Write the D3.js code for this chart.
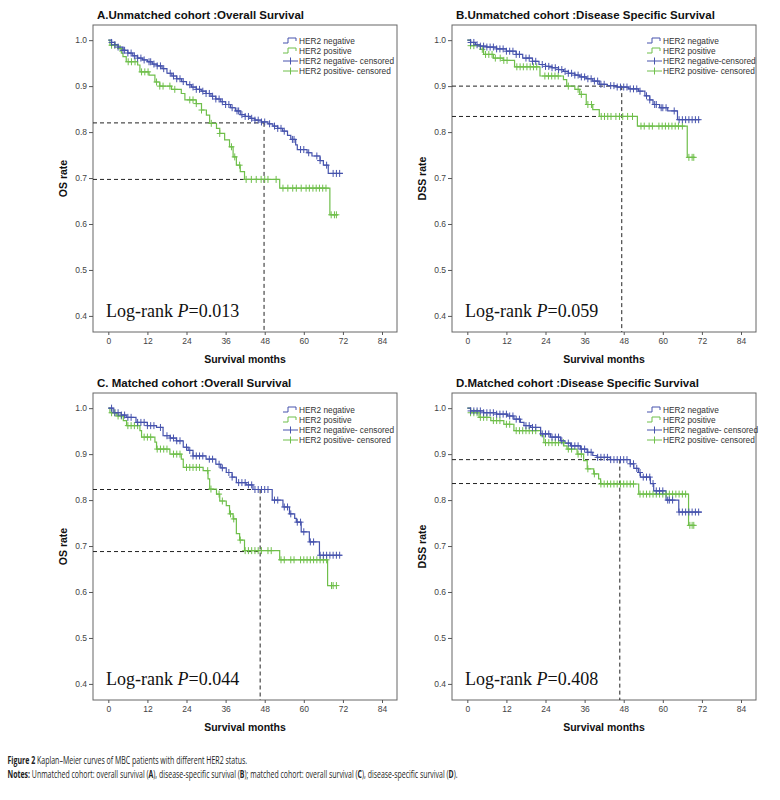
<!DOCTYPE html>
<html lang="en">
<head>
<meta charset="UTF-8">
<title>Kaplan-Meier curves by HER2 status</title>
<style>
  body { margin: 0; background: #fff; }
  svg { display: block; }
  .tick text { font-family: Arial, "Liberation Sans", sans-serif; font-size: 8.5px; fill: #444; }
  .tick line, .domain { stroke: #555; }
  .legend text { font-family: Arial, "Liberation Sans", sans-serif; font-size: 8.3px; fill: #333; }
  .title { font-family: Arial, "Liberation Sans", sans-serif; font-weight: bold; font-size: 11.5px; fill: #111; }
  .axis-title { font-family: Arial, "Liberation Sans", sans-serif; font-weight: bold; font-size: 10.5px; fill: #111; }
  .pval { font-family: "Liberation Serif", "Times New Roman", serif; font-size: 18px; fill: #111; }
  .caption { font-family: "Open Sans", "Liberation Sans", sans-serif; font-size: 10px; fill: #222; }
</style>
</head>
<body>
<svg id="chart" width="780" height="800"></svg>
<script src="https://d3js.org/d3.v7.min.js"></script>
<script>
// ---- data: [month, survival] steps, censored months ----
const titles = [
  "A.Unmatched cohort :Overall Survival",
  "B.Unmatched cohort :Disease Specific Survival",
  "C. Matched cohort :Overall Survival",
  "D.Matched cohort :Disease Specific Survival"
];
const yTitles = ["OS rate", "DSS rate", "OS rate", "DSS rate"];
const pValues = ["0.013", "0.059", "0.044", "0.408"];
const legendLabels = [
  ["HER2 negative", "HER2 positive", "HER2 negative- censored", "HER2 positive- censored"],
  ["HER2 negative", "HER2 positive", "HER2 negative-censored", "HER2 positive- censored"],
  ["HER2 negative", "HER2 positive", "HER2 negative- censored", "HER2 positive- censored"],
  ["HER2 negative", "HER2 positive", "HER2 negative- censored", "HER2 positive- censored"]
];
const xTicks = [0, 12, 24, 36, 48, 60, 72, 84];
const yTicks = [0.4, 0.5, 0.6, 0.7, 0.8, 0.9, 1.0];

// reference lines: [month, level negative, level positive]
const refLines = [[47.8, 0.82, 0.697], [47.4, 0.9, 0.834], [46.6, 0.823, 0.688], [46.8, 0.888, 0.836]];

const aNegSteps = [[0,1],[1,0.995],[2,0.99],[3,0.985],[4.5,0.978],[6,0.972],[7.5,0.966],[9,0.961],[10.5,0.957],[12,0.953],[13.5,0.948],[15,0.944],[16.5,0.938],[18,0.928],[19.5,0.922],[21,0.916],[22.5,0.91],[24,0.903],[25.5,0.898],[27,0.893],[28.5,0.889],[30,0.884],[31.5,0.878],[33,0.872],[34.5,0.866],[36,0.86],[37.5,0.853],[39,0.846],[40.5,0.838],[42,0.834],[43.5,0.83],[45,0.826],[47,0.822],[49,0.818],[50.5,0.813],[52,0.808],[53.5,0.802],[55,0.793],[56,0.784],[57.5,0.772],[58,0.762],[61,0.755],[62.5,0.748],[65,0.738],[66,0.728],[67.5,0.71],[72,0.71]];
const aPosSteps = [[0,1],[0.5,0.989],[3,0.982],[4,0.972],[4.5,0.964],[5.5,0.953],[9,0.946],[9.7,0.931],[12.5,0.924],[14.3,0.909],[15.8,0.9],[19.4,0.893],[22.4,0.884],[23.5,0.87],[27,0.862],[28.6,0.848],[30.1,0.837],[31.1,0.819],[33.2,0.808],[34.2,0.797],[35.7,0.783],[37.2,0.768],[38.3,0.746],[39.3,0.728],[40.5,0.714],[41.8,0.697],[52.6,0.678],[68,0.62],[70.5,0.62]];
const aNegCens = [1,2,3,4.5,5,6,7,8,9,10,11,12.5,13,14,15,16,17,19,20,21,22,23,25,26,27,28,29,30,31,32,33,34,35,36,37,38,39.5,40,41,42,43,44,45,46,47,48,49.5,51,52,53,54,56.5,57,59,60,61.5,64,65,67,69,70,71];
const aPosCens = [1,2,3.6,6.1,7.1,8.2,10.2,11.2,12.2,14.8,15.8,16.8,18.9,20.4,25,26,27,28.6,31.6,34.2,37.8,38.8,40.3,42.3,43.9,45.4,46.9,48,49,51.5,53.6,55.1,56.6,57.7,59.2,60.7,61.7,62.8,63.8,64.8,65.8,66.8,68.4,69.4,70];

const bNegSteps = [[0,1],[1,0.995],[2.5,0.99],[4,0.987],[6,0.985],[9,0.981],[12,0.976],[15,0.969],[17,0.961],[20,0.954],[22,0.947],[24,0.943],[26,0.94],[28,0.936],[29.5,0.932],[31,0.928],[33,0.924],[34.5,0.92],[36.5,0.916],[38.5,0.911],[40.5,0.904],[43,0.901],[46,0.898],[49.5,0.894],[52.5,0.889],[54.5,0.879],[56,0.87],[57,0.86],[59,0.853],[61.5,0.846],[64.5,0.827],[71.5,0.827]];
const bPosSteps = [[0,1],[1,0.988],[4,0.98],[5,0.969],[8,0.961],[11,0.956],[14.5,0.942],[22.3,0.922],[29.5,0.914],[30.5,0.9],[33,0.893],[34.5,0.882],[36.5,0.86],[38.5,0.849],[40.5,0.834],[52.2,0.813],[67.5,0.745],[70,0.745]];
const bNegCens = [1,2,3,4,5,6,7,8,9,10,11,12,13,14,15,16,18,19,20,21,23,24,25,26,27,28,29,30,31,32,33,34,35,36,37,38,39,40,41,42,44,45,46,47,48,49,50,51,52,53,55,56,57.5,58,59.5,60,61,63.5,65,66,67,68,69,70,71];
const bPosCens = [1,2,4.6,5.6,6.6,7.6,8.6,10.1,11.2,12.2,15.2,16.2,17.2,18.3,19.3,20.3,21.3,23.8,24.9,25.9,26.9,27.9,31,34,35,37,38.1,41.1,42.1,43.1,44.1,45.6,46.7,47.7,49.2,50.7,53.3,54.3,55.8,56.8,58.8,59.8,60.8,61.8,62.8,63.8,64.8,66,68,69,69.5];

const cNegSteps = [[0,1],[1.5,0.99],[4,0.985],[5.5,0.98],[8.5,0.969],[12,0.962],[14.8,0.958],[16.8,0.94],[19,0.935],[20.9,0.929],[23,0.915],[24.5,0.908],[26,0.896],[30,0.889],[33,0.878],[34.5,0.87],[36.2,0.86],[38,0.85],[39.3,0.838],[42.3,0.833],[44.4,0.823],[50.3,0.8],[53.6,0.785],[55.6,0.77],[57.2,0.76],[57.7,0.752],[59.2,0.731],[61.7,0.709],[64.8,0.68],[71.7,0.68]];
const cPosSteps = [[0,1],[0.5,0.99],[2.6,0.983],[4.6,0.973],[5.6,0.962],[9.7,0.951],[10.2,0.937],[14.3,0.926],[14.8,0.911],[18.9,0.9],[22.4,0.889],[23,0.871],[29.1,0.864],[30.6,0.846],[31.1,0.824],[33.2,0.813],[34.2,0.798],[36.2,0.788],[37.2,0.77],[38.3,0.759],[39.3,0.727],[40.3,0.713],[41.8,0.69],[52.6,0.67],[67.3,0.614],[70,0.614]];
const cNegCens = [1,2,3,4,5,6,7,9,10,11,12,13,14,16,18,19,20,21,22,24,25,26,27,28,29,31,32,34,35,37,38,40,41,42,43,44,45,46,47,48,49,51,52,54,55,56,58,59,60,62,63,65,66,67,68,69,70,71];
const cPosCens = [1,2,3,4,6,7,8,9,11,12,13,15,16,17,18,20,21,22,24,25,26,27,28,30.5,31.5,34,35,37.5,38.5,40.5,42,43,44,45,46,47,49,50,53,54,56,57,59,60,61,62,63,64,65,66,67,68.5,69,70];

const dNegSteps = [[0,1],[1,0.994],[5,0.99],[9,0.987],[12.3,0.983],[14.3,0.976],[16.3,0.969],[17.4,0.962],[19.4,0.958],[22.5,0.944],[25.5,0.937],[28.6,0.929],[30,0.924],[31.7,0.918],[34.7,0.911],[36.8,0.904],[38.5,0.897],[39.8,0.893],[43.9,0.888],[50,0.879],[51.1,0.869],[52.5,0.86],[53.1,0.85],[56.2,0.836],[57.2,0.82],[61,0.8],[64.9,0.774],[72,0.774]];
const dPosSteps = [[0,1],[1,0.99],[3.6,0.98],[7.2,0.973],[11.2,0.965],[14.3,0.951],[22.5,0.94],[23.5,0.925],[29.6,0.918],[30.6,0.911],[33.7,0.9],[35.7,0.886],[36.8,0.868],[38.8,0.857],[40.3,0.846],[40.9,0.835],[52.6,0.813],[67.9,0.745],[70,0.745]];
const dNegCens = [1,2,3,4,5,6,7,8,9,10,11,12,13,14,15,16,18,19,20,21,23,24,25,26,27,28,29,31,32,33,34,35,36,37,38,40,41,42,43,44,45,46,47,48,49,50,51,52,53,54,55,56,57,58,59,60,61.5,62,63,65,66,67,68,69,70,71];
const dPosCens = [1,2,3,4,5,6,8,9,10,12,13,15,16,17,18,19,20,21,24,25,26,27,28,29.5,31,32,34,35,37,39,41,42,43,44,45,46,47,48,49,50,51,53,54,55,56,57,58,59,60,61,62,63,64,65,66,67,68.3,69,69.5];

const negSteps = [aNegSteps, bNegSteps, cNegSteps, dNegSteps];
const posSteps = [aPosSteps, bPosSteps, cPosSteps, dPosSteps];
const negCens = [aNegCens, bNegCens, cNegCens, dNegCens];
const posCens = [aPosCens, bPosCens, cPosCens, dPosCens];

// ---- layout ----
const blue = "#4653ad", green = "#6fbf4b";
const svg = d3.select("#chart");
const offsets = [[0, 0], [359, 0], [0, 368], [359, 368]];
const box = { left: 93, top: 25, width: 304, height: 307 };

const x = d3.scaleLinear().domain([-4.7, 88.6]).range([0, box.width]);
const y = d3.scaleLinear().domain([0.365, 1.033]).range([box.height, 0]);
const bis = d3.bisector(d => d[0]).right;
const stepAt = (steps, t) => steps[Math.max(0, bis(steps, t) - 1)][1];
const line = d3.line().x(d => x(d[0])).y(d => y(d[1])).curve(d3.curveStepAfter);

function drawCensored(g, steps, times, color) {
  g.selectAll(null).data(times).enter().append("path")
    .attr("d", t => {
      const cx = x(t), cy = y(stepAt(steps, t));
      return `M${cx - 3},${cy}H${cx + 3}M${cx},${cy - 3.5}V${cy + 3.5}`;
    })
    .attr("stroke", color).attr("stroke-width", 1).attr("fill", "none");
}

offsets.forEach((o, i) => {
  const panel = svg.append("g").attr("transform", `translate(${o[0]},${o[1]})`);

  panel.append("text").attr("class", "title")
    .attr("x", box.left + 4).attr("y", box.top - 6).text(titles[i]);

  const g = panel.append("g").attr("transform", `translate(${box.left},${box.top})`);

  g.append("rect").attr("width", box.width).attr("height", box.height)
    .attr("fill", "#fff").attr("stroke", "#666").attr("stroke-width", 1);

  g.append("g").attr("transform", `translate(0,${box.height})`)
    .call(d3.axisBottom(x).tickValues(xTicks).tickSize(3).tickPadding(3).tickFormat(d3.format("d")))
    .call(a => a.select(".domain").remove());

  g.append("g")
    .call(d3.axisLeft(y).tickValues(yTicks).tickSize(4).tickPadding(2).tickFormat(d3.format(".1f")))
    .call(a => a.select(".domain").remove());

  // reference dashed lines
  const r = refLines[i];
  g.selectAll(null).data([r[1], r[2]]).enter().append("line")
    .attr("x1", 0).attr("x2", x(r[0])).attr("y1", d => y(d)).attr("y2", d => y(d))
    .attr("stroke", "#222").attr("stroke-dasharray", "4,3");
  g.append("line")
    .attr("x1", x(r[0])).attr("x2", x(r[0])).attr("y1", y(r[1])).attr("y2", box.height)
    .attr("stroke", "#222").attr("stroke-dasharray", "4,3");

  // KM curves
  g.append("path").attr("d", line(posSteps[i])).attr("fill", "none").attr("stroke", green).attr("stroke-width", 1.2);
  g.append("path").attr("d", line(negSteps[i])).attr("fill", "none").attr("stroke", blue).attr("stroke-width", 1.2);
  drawCensored(g, posSteps[i], posCens[i], green);
  drawCensored(g, negSteps[i], negCens[i], blue);

  // legend
  const lg = g.append("g").attr("class", "legend").attr("transform", `translate(${i % 2 ? 195 : 190},${i < 2 ? 16 : 17})`);
  const colors = [blue, green, blue, green];
  legendLabels[i].forEach((lab, k) => {
    const row = lg.append("g").attr("transform", `translate(0,${k * 10})`);
    if (k < 2) {
      row.append("path").attr("d", "M0,2H5V-3H13V0").attr("fill", "none").attr("stroke", colors[k]);
    } else {
      row.append("path").attr("d", "M0,0H15M7.5,-3.5V3.5").attr("fill", "none").attr("stroke", colors[k]);
    }
    row.append("text").attr("x", 16).attr("y", 3).text(lab);
  });

  // log-rank text
  const pt = g.append("text").attr("class", "pval").attr("x", 13).attr("y", box.height - 15);
  pt.append("tspan").text("Log-rank ");
  pt.append("tspan").attr("font-style", "italic").text("P");
  pt.append("tspan").text("=" + pValues[i]);

  // axis titles
  g.append("text").attr("class", "axis-title").attr("text-anchor", "middle")
    .attr("x", box.width / 2).attr("y", box.height + 31).text("Survival months");
  g.append("text").attr("class", "axis-title").attr("text-anchor", "middle")
    .attr("transform", `translate(-26,${box.height / 2}) rotate(-90)`).text(yTitles[i]);
});

// caption: 10px text squeezed horizontally to the reference line widths
function captionLine(yPos, parts, width) {
  const t = svg.append("text").attr("class", "caption");
  parts.forEach(p => t.append("tspan").attr("font-weight", p[1] ? "bold" : null).text(p[0]));
  const k = width / t.node().getComputedTextLength();
  t.attr("transform", `translate(7.5,${yPos}) scale(${k.toFixed(3)},1)`);
}
captionLine(764, [["Figure 2 ", true], ["Kaplan–Meier curves of MBC patients with different HER2 status.", false]], 240);
captionLine(778, [["Notes: ", true], ["Unmatched cohort: overall survival (", false], ["A", true], ["), disease-specific survival (", false], ["B", true],
  ["); matched cohort: overall survival (", false], ["C", true], ["), disease-specific survival (", false], ["D", true], [").", false]], 450);
</script>
</body>
</html>
